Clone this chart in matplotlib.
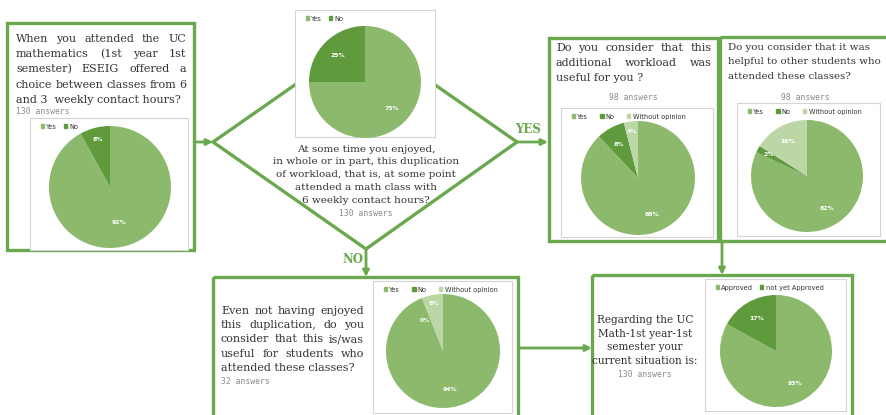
import matplotlib
matplotlib.use("Agg")
import numpy as np
import matplotlib.pyplot as plt
from matplotlib.patches import Rectangle, Polygon, Patch
from matplotlib.font_manager import FontProperties

# ---- survey data -------------------------------------------------------
q1_labels = ["Yes", "No"]
q1_values = [92, 8]

q2_labels = ["Yes", "No"]
q2_values = [75, 25]

q3_labels = ["Yes", "No", "Without opinion"]
q3_values = [88, 8, 4]

q4_labels = ["Yes", "No", "Without opinion"]
q4_values = [82, 2, 16]

q5_labels = ["Yes", "No", "Without opinion"]
q5_values = [94, 0, 6]

q6_labels = ["Approved", "not yet Approved"]
q6_values = [83, 17]

answers = {"q1": "130 answers", "q2": "130 answers", "q3": "98 answers",
           "q4": "98 answers", "q5": "32 answers", "q6": "130 answers"}

# ---- style -------------------------------------------------------------
W, H = 887, 415
GREEN = "#6aa84f"
C_YES = "#8db96d"
C_NO = "#5f9a3c"
C_NEUTRAL = "#bcd6a5"
TXT = "#333333"
GRAY = "#8a8a8a"
SERIF = "DejaVu Serif"
FS = 8.0

fig = plt.figure(figsize=(W / 100, H / 100), dpi=100)
fig.patch.set_facecolor("white")
base = fig.add_axes([0, 0, 1, 1])
base.set_xlim(0, W)
base.set_ylim(H, 0)
base.axis("off")
renderer = fig.canvas.get_renderer()


def box(x0, y0, x1, y1):
    base.add_patch(Rectangle((x0, y0), x1 - x0, y1 - y0, fill=False,
                             ec=GREEN, lw=2.4, zorder=2))


def arrow(p0, p1):
    base.annotate("", xy=p1, xytext=p0,
                  arrowprops=dict(arrowstyle="-|>", color=GREEN, lw=2,
                                  mutation_scale=9, shrinkA=0, shrinkB=0),
                  zorder=3)


def justified(lines, x0, x1, y0, dy, fs, last_left=True):
    prop = FontProperties(family=SERIF, size=fs)
    for i, line in enumerate(lines):
        y = y0 + i * dy
        words = line.split()
        if (last_left and i == len(lines) - 1) or len(words) == 1:
            base.text(x0, y, line, fontproperties=prop, color=TXT,
                      va="center", ha="left")
            continue
        widths = [renderer.get_text_width_height_descent(w, prop, ismath=False)[0]
                  for w in words]
        gap = (x1 - x0 - sum(widths)) / (len(words) - 1)
        x = x0
        for w, wd in zip(words, widths):
            base.text(x, y, w, fontproperties=prop, color=TXT,
                      va="center", ha="left")
            x += wd + gap


def answers_text(x, y, s, ha="left"):
    base.text(x, y, s, fontsize=5.8, family="DejaVu Sans Mono", color=GRAY,
              va="center", ha=ha)


def pie_panel(frame, center, radius, values, labels, colors,
              label_r=None, label_shift=None, colspace=1.8):
    fx0, fy0, fx1, fy1 = frame
    base.add_patch(Rectangle((fx0, fy0), fx1 - fx0, fy1 - fy0, fc="white",
                             ec="#d4d4d4", lw=0.8, zorder=4))
    cx, cy = center
    ax = fig.add_axes([(cx - radius) / W, 1 - (cy + radius) / H,
                       2 * radius / W, 2 * radius / H])
    wedges, _, autotexts = ax.pie(
        values, colors=colors, startangle=90, counterclock=False,
        autopct=lambda p: f"{p:.0f}%", pctdistance=0.68,
        textprops=dict(color="white", fontsize=4.4, fontweight="bold"),
        wedgeprops=dict(linewidth=0))
    # fine placement of the percentage labels inside thin slices
    for k, (w, t) in enumerate(zip(wedges, autotexts)):
        ang = np.deg2rad((w.theta1 + w.theta2) / 2)
        r = 0.68 if label_r is None else label_r[k]
        if label_shift is not None:
            ang += np.deg2rad(label_shift[k])
        t.set_position((r * np.cos(ang), r * np.sin(ang)))
    ax.set_xlim(-1, 1)
    ax.set_ylim(-1, 1)
    ax.set_aspect("auto")
    handles = [Patch(color=c, label=l) for c, l in zip(colors, labels)]
    fig.legend(handles=handles, loc="upper left",
               bbox_to_anchor=((fx0 + 6) / W, 1 - (fy0 + 1) / H),
               ncol=len(labels), frameon=False, fontsize=4.8,
               handlelength=0.5, handleheight=0.5, handletextpad=0.35,
               columnspacing=colspace, borderpad=0.2, labelcolor="#333333")


# ---- box 1 -------------------------------------------------------------
box(7, 23, 194, 250)
justified(["When you attended the UC",
           "mathematics (1st year 1st",
           "semester) ESEIG offered a",
           "choice between classes from 6",
           "and 3  weekly contact hours?"],
          16, 186, 39, 15.2, FS, last_left=True)
answers_text(16, 111, answers["q1"])
pie_panel((30, 118, 188, 250), (110, 187), 61, q1_values, q1_labels,
          [C_YES, C_NO], label_r=[0.6, 0.8], colspace=1.0)
arrow((194, 142), (213, 142))

# ---- decision diamond --------------------------------------------------
dia = [(213, 142), (365, 36), (517, 142), (366, 249)]
base.add_patch(Polygon(dia, closed=True, fill=False, ec=GREEN, lw=2.4,
                       zorder=2))
pie_panel((295, 10, 435, 137), (365, 82), 56, q2_values, q2_labels,
          [C_YES, C_NO], colspace=1.0)
diamond_lines = ["At some time you enjoyed,",
                 "in whole or in part, this duplication",
                 "of workload, that is, at some point",
                 "attended a math class with",
                 "6 weekly contact hours?"]
for i, s in enumerate(diamond_lines):
    base.text(366, 149 + i * 12.8, s, family=SERIF, fontsize=7.5, color=TXT,
              ha="center", va="center")
answers_text(366, 213, answers["q2"], ha="center")

# YES branch
base.text(528, 129, "YES", family=SERIF, fontsize=8.5, fontweight="bold",
          color=GREEN, ha="center", va="center")
arrow((517, 142), (548, 142))

# ---- box 3 -------------------------------------------------------------
box(549, 38, 718, 241)
justified(["Do you consider that this",
           "additional workload was",
           "useful for you ?"],
          556, 712, 48, 14.8, FS)
answers_text(633, 97, answers["q3"], ha="center")
pie_panel((561, 108, 713, 237), (638, 178), 57, q3_values, q3_labels,
          [C_YES, C_NO, C_NEUTRAL], label_r=[0.68, 0.68, 0.82])

# ---- box 4 -------------------------------------------------------------
box(720, 37, 895, 241)
for i, s in enumerate(["Do you consider that it was",
                       "helpful to other students who",
                       "attended these classes?"]):
    base.text(728, 47 + i * 14.8, s, family=SERIF, fontsize=7.4, color=TXT,
              ha="left", va="center")
answers_text(805, 97, answers["q4"], ha="center")
pie_panel((737, 103, 880, 236), (807, 176), 56, q4_values, q4_labels,
          [C_YES, C_NO, C_NEUTRAL], label_r=[0.68, 0.78, 0.7])
arrow((722, 241), (722, 275))

# NO branch
base.text(353, 259, "NO", family=SERIF, fontsize=8.5, fontweight="bold",
          color=GREEN, ha="center", va="center")
arrow((366, 249), (366, 277))

# ---- box 5 -------------------------------------------------------------
box(213, 277, 518, 430)
justified(["Even not having enjoyed",
           "this duplication, do you",
           "consider that this is/was",
           "useful for students who",
           "attended these classes?"],
          221, 364, 311, 14.2, FS)
answers_text(221, 381, answers["q5"])
pie_panel((373, 281, 512, 413), (443, 351), 57, q5_values, q5_labels,
          [C_YES, C_NO, C_NEUTRAL], label_r=[0.68, 0.62, 0.85],
          label_shift=[0, 10, 0])
arrow((518, 348), (592, 348))

# ---- box 6 -------------------------------------------------------------
box(592, 275, 852, 430)
for i, s in enumerate(["Regarding the UC",
                       "Math-1st year-1st",
                       "semester your",
                       "current situation is:"]):
    base.text(645, 320 + i * 13.5, s, family=SERIF, fontsize=7.6, color=TXT,
              ha="center", va="center")
answers_text(645, 374, answers["q6"], ha="center")
pie_panel((705, 279, 846, 411), (776, 351), 56, q6_values, q6_labels,
          [C_YES, C_NO], colspace=1.0)

fig.savefig("out.png", dpi=100, facecolor="white")
